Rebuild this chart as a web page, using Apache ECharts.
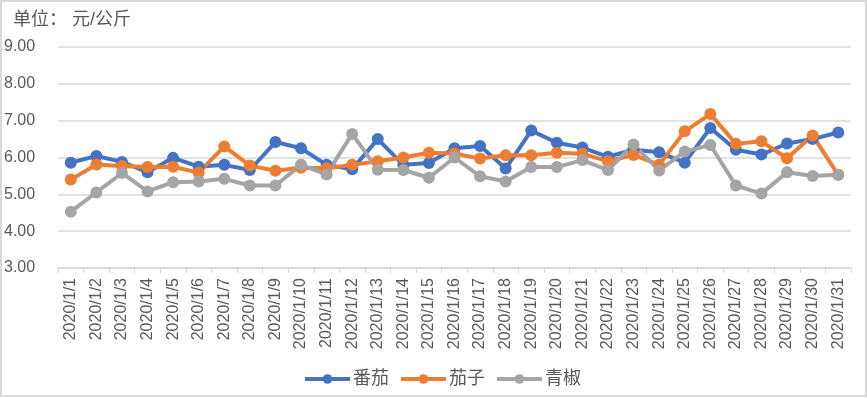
<!DOCTYPE html>
<html>
<head>
<meta charset="utf-8">
<script src="https://cdn.jsdelivr.net/npm/echarts@6/dist/echarts.min.js"></script>
<style>
  html, body { margin: 0; padding: 0; background: #fff; }
  #priceChart { width: 867px; height: 398px; }
</style>
</head>
<body>
<div id="priceChart"></div>
<script>
// 日期
const dates = [
  '2020/1/1', '2020/1/2', '2020/1/3', '2020/1/4', '2020/1/5', '2020/1/6', '2020/1/7', '2020/1/8',
  '2020/1/9', '2020/1/10', '2020/1/11', '2020/1/12', '2020/1/13', '2020/1/14', '2020/1/15', '2020/1/16',
  '2020/1/17', '2020/1/18', '2020/1/19', '2020/1/20', '2020/1/21', '2020/1/22', '2020/1/23', '2020/1/24',
  '2020/1/25', '2020/1/26', '2020/1/27', '2020/1/28', '2020/1/29', '2020/1/30', '2020/1/31'
];
// 番茄
const tomato = [
  5.86, 6.04, 5.88, 5.60, 5.99, 5.75, 5.80, 5.66, 6.42, 6.25,
  5.80, 5.68, 6.50, 5.80, 5.85, 6.25, 6.31, 5.70, 6.73, 6.40,
  6.27, 6.02, 6.21, 6.14, 5.86, 6.80, 6.21, 6.08, 6.38, 6.50, 6.68
];
// 茄子
const eggplant = [
  5.40, 5.81, 5.77, 5.74, 5.75, 5.59, 6.30, 5.78, 5.64, 5.72,
  5.71, 5.80, 5.90, 6.00, 6.13, 6.11, 5.97, 6.06, 6.06, 6.13,
  6.10, 5.90, 6.07, 5.80, 6.71, 7.18, 6.37, 6.44, 5.98, 6.60, 5.53
];
// 青椒
const pepper = [
  4.53, 5.05, 5.58, 5.08, 5.33, 5.35, 5.42, 5.24, 5.24, 5.80,
  5.54, 6.64, 5.67, 5.66, 5.45, 6.00, 5.49, 5.35, 5.74, 5.74,
  5.93, 5.66, 6.35, 5.65, 6.16, 6.34, 5.24, 5.02, 5.60, 5.50, 5.53
];

const seriesNames = ['番茄', '茄子', '青椒'];
const seriesColors = ['#4472C4', '#ED7D31', '#A5A5A5'];
const textColor = '#595959';
const fontFamily = 'Liberation Sans, Noto Sans CJK SC, sans-serif';

function makeLine(name, data, color) {
  return {
    name: name,
    type: 'line',
    data: data,
    symbol: 'circle',
    symbolSize: 12,
    lineStyle: { color: color, width: 4 },
    itemStyle: { color: color },
    emphasis: { disabled: true }
  };
}

const myChart = echarts.init(document.getElementById('priceChart'));
const chartOption = {
  animation: false,
  color: seriesColors,
  title: {
    text: '单位： 元/公斤',
    left: 8,
    top: 6,
    textStyle: {
      color: textColor,
      fontWeight: 'normal',
      fontFamily: fontFamily,
      fontSize: 18
    }
  },
  legend: {
    bottom: 5,
    left: 298,
    itemWidth: 45,
    itemHeight: 12,
    itemGap: 10,
    data: seriesNames,
    lineStyle: { width: 4 },
    textStyle: { color: textColor, fontSize: 18, fontFamily: fontFamily, padding: [0, 0, 0, -2] }
  },
  graphic: [{
    type: 'rect',
    shape: { x: 1, y: 1, width: 865, height: 395 },
    style: { fill: 'none', stroke: '#d9d9d9', lineWidth: 2 },
    silent: true
  }],
  grid: {
    left: 58,
    right: 16,
    top: 47,
    bottom: 130,
    containLabel: false
  },
  xAxis: {
    type: 'category',
    boundaryGap: true,
    data: dates,
    axisLine: { lineStyle: { color: '#d9d9d9', width: 1.5 } },
    axisTick: { show: true, alignWithLabel: false, length: 5, lineStyle: { color: '#d9d9d9' } },
    axisLabel: {
      rotate: 90,
      interval: 0,
      margin: 10,
      color: textColor,
      fontSize: 16,
      fontFamily: fontFamily
    }
  },
  yAxis: {
    type: 'value',
    min: 3,
    max: 9,
    interval: 1,
    axisLine: { show: false },
    axisTick: { show: false },
    splitLine: { lineStyle: { color: '#d9d9d9', width: 1.5 } },
    axisLabel: {
      formatter: (v) => v.toFixed(2),
      align: 'left',
      margin: 54,
      color: textColor,
      fontSize: 16,
      fontFamily: fontFamily
    }
  },
  series: [
    makeLine(seriesNames[0], tomato, seriesColors[0]),
    makeLine(seriesNames[1], eggplant, seriesColors[1]),
    makeLine(seriesNames[2], pepper, seriesColors[2])
  ]
};
myChart.setOption(chartOption);
</script>
</body>
</html>
